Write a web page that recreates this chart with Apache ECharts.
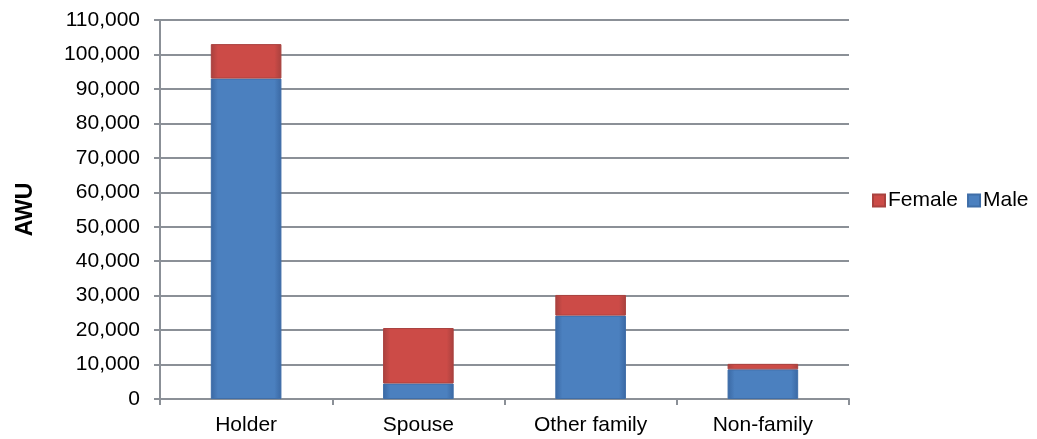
<!DOCTYPE html>
<html>
<head>
<meta charset="utf-8">
<script src="https://cdn.jsdelivr.net/npm/echarts@6/dist/echarts.min.js"></script>
<style>
  html, body { margin: 0; padding: 0; background: #ffffff; }
  #chart { width: 1037px; height: 439px; }
</style>
</head>
<body>
<div id="chart"></div>
<script>
// Agricultural work units by family role and gender
const categories = ['Holder', 'Spouse', 'Other family', 'Non-family'];
const maleValues = [93000, 4500, 24200, 8600];
const femaleValues = [10000, 16100, 6000, 1600];
const yTicks = { min: 0, max: 110000, interval: 10000 };

const fontFamily = 'Liberation Sans, Arial, sans-serif';

// Bevelled look: darker side edges, flat face in the middle
function barFill(edge, mid) {
  return new echarts.graphic.LinearGradient(0, 0, 1, 0, [
    { offset: 0, color: edge },
    { offset: 0.1, color: mid },
    { offset: 0.9, color: mid },
    { offset: 1, color: edge }
  ]);
}

const chart = echarts.init(document.getElementById('chart'), null, { renderer: 'canvas' });

chart.setOption({
  backgroundColor: '#ffffff',
  animation: false,
  grid: { left: 160, right: 188, top: 20, bottom: 40, containLabel: false },
  legend: {
    orient: 'horizontal',
    left: 872,
    right: 0,
    top: 190,
    padding: 0,
    itemWidth: 12,
    itemHeight: 12,
    itemGap: 9,
    textStyle: { fontFamily: fontFamily, fontSize: 21, color: '#000000', padding: [0, 0, 0, -2] },
    data: [
      { name: 'Female', icon: 'rect' },
      { name: 'Male', icon: 'rect' }
    ]
  },
  xAxis: {
    type: 'category',
    data: categories,
    axisLine: { lineStyle: { color: '#8b9097', width: 2 } },
    axisTick: { show: true, length: 6, lineStyle: { color: '#8b9097', width: 2 } },
    axisLabel: { fontFamily: fontFamily, fontSize: 21, color: '#000000', margin: 16 }
  },
  yAxis: {
    type: 'value',
    min: yTicks.min,
    max: yTicks.max,
    interval: yTicks.interval,
    name: 'AWU',
    nameLocation: 'middle',
    nameGap: 123,
    nameRotate: 90,
    nameTextStyle: { fontFamily: fontFamily, fontSize: 23, fontWeight: 'bold', color: '#000000' },
    axisLine: { show: true, lineStyle: { color: '#8b9097', width: 2 } },
    axisTick: { show: true, length: 6, lineStyle: { color: '#8b9097', width: 2 } },
    axisLabel: {
      fontFamily: fontFamily, fontSize: 21, color: '#000000', margin: 20,
      formatter: v => v.toLocaleString('en-US')
    },
    splitLine: { show: true, lineStyle: { color: '#8b9097', width: 2 } }
  },
  series: [
    {
      name: 'Male',
      type: 'bar',
      stack: 'total',
      data: maleValues,
      barWidth: '41%',
      color: '#4a7ebb',
      itemStyle: {
        color: barFill('#3a68a3', '#4b80bf'),
        borderColor: '#3f6ea8',
        borderWidth: 1
      }
    },
    {
      name: 'Female',
      type: 'bar',
      stack: 'total',
      data: femaleValues,
      barWidth: '41%',
      color: '#c0504d',
      itemStyle: {
        color: barFill('#a8413e', '#cc4b47'),
        borderColor: '#a9423f',
        borderWidth: 1
      }
    }
  ]
});
</script>
</body>
</html>
